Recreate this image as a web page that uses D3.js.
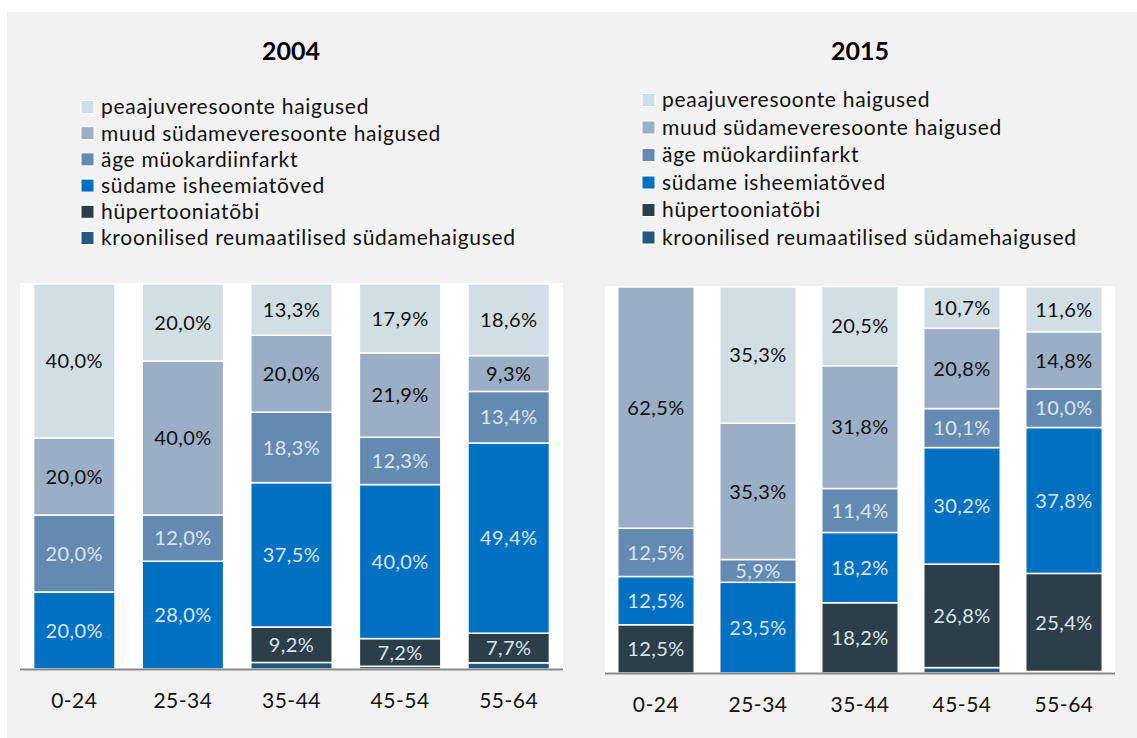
<!DOCTYPE html>
<html>
<head>
<meta charset="utf-8">
<title>Südameveresoonte haigused 2004 / 2015</title>
<script src="https://cdn.jsdelivr.net/npm/d3@7"></script>
<style>
* { margin: 0; padding: 0; }
body { background: #ffffff; font-family: Lato, "Open Sans", sans-serif; }
text { font-family: Lato, "Open Sans", sans-serif; }
</style>
</head>
<body>
<div id="chart"></div>
<script>
// age groups on the x axis
var ageGroups = ["0-24", "25-34", "35-44", "45-54", "55-64"];

// causes, bottom of the stack first
var causes = [
  "kroonilised reumaatilised südamehaigused",
  "hüpertooniatõbi",
  "südame isheemiatõved",
  "äge müokardiinfarkt",
  "muud südameveresoonte haigused",
  "peaajuveresoonte haigused"
];

// shares in %, one row per cause (same order as causes), one column per age group
var shares2004 = [
  [0, 0, 1.7, 0.7, 1.6],
  [0, 0, 9.2, 7.2, 7.7],
  [20.0, 28.0, 37.5, 40.0, 49.4],
  [20.0, 12.0, 18.3, 12.3, 13.4],
  [20.0, 40.0, 20.0, 21.9, 9.3],
  [40.0, 20.0, 13.3, 17.9, 18.6]
];

var shares2015 = [
  [0, 0, 0, 1.4, 0.4],
  [12.5, 0, 18.2, 26.8, 25.4],
  [12.5, 23.5, 18.2, 30.2, 37.8],
  [12.5, 5.9, 11.4, 10.1, 10.0],
  [62.5, 35.3, 31.8, 20.8, 14.8],
  [0, 35.3, 20.5, 10.7, 11.6]
];

var years = ["2004", "2015"];

var colors = ["#23577e", "#2c3e48", "#0070c0", "#658ab2", "#9aaec6", "#d2dee5"];
var labelColors = [null, "#d9e5ef", "#d9e5ef", "#d9e5ef", "#111111", "#111111"];

var width = 1137, height = 738;

var svg = d3.select("#chart").append("svg")
  .attr("width", width)
  .attr("height", height);

// grey panel behind both charts
svg.append("rect")
  .attr("x", 7).attr("y", 12)
  .attr("width", width - 7).attr("height", height - 12)
  .attr("fill", "#f2f2f2");

var panels = [
  { year: years[0], shares: shares2004, left: 20, right: 563, top: 284, bottom: 669,
    titleX: 291, legendX: 81, legendY: 107, legendStep: 26.2 },
  { year: years[1], shares: shares2015, left: 605, right: 1115, top: 287, bottom: 673,
    titleX: 860, legendX: 642, legendY: 100, legendStep: 27.5 }
];

function fmt(v) {
  return v.toFixed(1).replace(".", ",") + "%";
}

panels.forEach(function(p) {
  var g = svg.append("g");

  var rows = ageGroups.map(function(a, j) {
    var o = { age: a };
    causes.forEach(function(c, i) { o[c] = p.shares[i][j]; });
    return o;
  });

  var series = d3.stack().keys(causes)(rows);

  var x = d3.scaleBand()
    .domain(ageGroups)
    .range([p.left, p.right])
    .paddingInner(0.25)
    .paddingOuter(0.125);

  var y = d3.scaleLinear()
    .domain([0, 100])
    .range([p.bottom, p.top]);

  // white plot area
  g.append("rect")
    .attr("x", p.left).attr("y", p.top - 1)
    .attr("width", p.right - p.left).attr("height", p.bottom - p.top + 1)
    .attr("fill", "#ffffff");

  // title
  g.append("text")
    .attr("x", p.titleX).attr("y", 60)
    .attr("text-anchor", "middle")
    .attr("font-size", 25)
    .attr("font-weight", "bold")
    .attr("fill", "#000")
    .text(p.year);

  // legend, top row is the top of the stack
  var legendItems = causes.slice().reverse();
  legendItems.forEach(function(c, k) {
    var i = causes.indexOf(c);
    var cy = p.legendY + k * p.legendStep;
    g.append("rect")
      .attr("x", p.legendX).attr("y", cy - 6.5)
      .attr("width", 13).attr("height", 13)
      .attr("fill", colors[i])
      .attr("stroke", "#ffffff")
      .attr("stroke-width", 1);
    g.append("text")
      .attr("x", p.legendX + 20).attr("y", cy)
      .attr("dy", "0.35em")
      .attr("font-size", 21)
      .attr("letter-spacing", 0.7)
      .attr("fill", "#111")
      .text(c);
  });

  // stacked bars
  series.forEach(function(s, i) {
    var layer = g.append("g");
    layer.selectAll("rect")
      .data(s.filter(function(d) { return d[1] - d[0] > 0; }))
      .join("rect")
      .attr("x", function(d) { return x(d.data.age); })
      .attr("y", function(d) { return y(d[1]); })
      .attr("width", x.bandwidth())
      .attr("height", function(d) { return y(d[0]) - y(d[1]); })
      .attr("fill", colors[i])
      .attr("stroke", "#ffffff")
      .attr("stroke-width", 1.5);

    if (labelColors[i]) {
      layer.selectAll("text")
        .data(s.filter(function(d) { return d[1] - d[0] > 0; }))
        .join("text")
        .attr("x", function(d) { return x(d.data.age) + x.bandwidth() / 2; })
        .attr("y", function(d) { return (y(d[0]) + y(d[1])) / 2; })
        .attr("dy", "0.36em")
        .attr("text-anchor", "middle")
        .attr("font-size", 20)
        .attr("letter-spacing", 0.4)
        .attr("fill", labelColors[i])
        .text(function(d) { return fmt(d[1] - d[0]); });
    }
  });

  // x axis
  var axis = g.append("g")
    .attr("transform", "translate(0," + (p.bottom + 0.5) + ")")
    .call(d3.axisBottom(x).tickSize(0).tickPadding(24));
  axis.select(".domain")
    .attr("stroke", "#898989")
    .attr("stroke-width", 2)
    .attr("d", "M" + p.left + ",0H" + p.right);
  axis.selectAll("text")
    .attr("font-size", 21)
    .attr("letter-spacing", 0.5)
    .attr("font-family", "Lato, 'Open Sans', sans-serif")
    .attr("fill", "#111");
});
</script>
</body>
</html>
